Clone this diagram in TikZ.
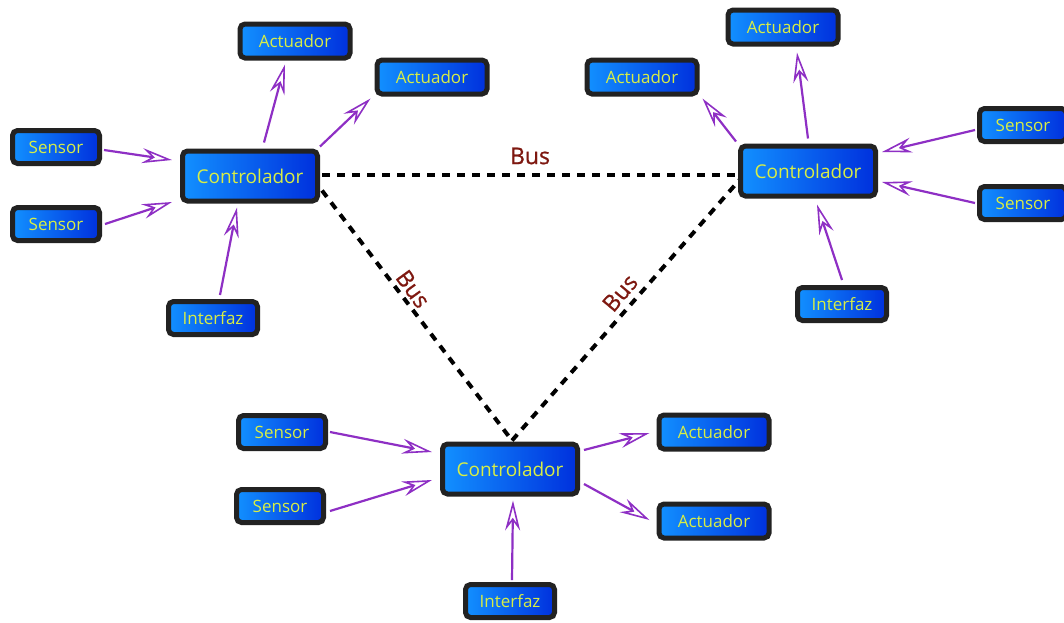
\documentclass[tikz,border=0pt]{standalone}
\usepackage{fontspec}
\setmainfont{Open Sans}
\newfontfamily\busfont[FakeBold=0.8]{Open Sans}
\usetikzlibrary{arrows.meta,calc,backgrounds}
\definecolor{boxedge}{HTML}{222222}
\definecolor{blueL}{HTML}{1290FF}
\definecolor{blueR}{HTML}{0030DD}
\definecolor{txtY}{HTML}{D8EE45}
\definecolor{arrP}{HTML}{8E2FC4}
\definecolor{busR}{HTML}{7E1810}
\begin{document}
\begin{tikzpicture}[x=1pt,y=-1pt,
  box/.style={draw=boxedge, line width=5pt, rounded corners=5pt, left color=blueL, right color=blueR,
    text=txtY, font=\fontsize{17}{19}\selectfont, inner sep=0pt},
  ctrl/.style={box, minimum width=135pt, minimum height=50pt, font=\fontsize{19}{22}\selectfont},
  small/.style={box, minimum width=87pt, minimum height=33pt},
  smallw/.style={box, minimum width=110pt, minimum height=34pt},
  link/.style={draw=arrP, line width=2.2pt, -{Stealth[open, length=30pt, width=15pt, inset=10pt, line width=1.6pt, fill=white]}},
  bus/.style={draw=black, line width=4pt, dash pattern=on 8pt off 7pt},
  buslbl/.style={text=busR, draw=none, font=\busfont\fontsize{23}{25}\selectfont, inner sep=0pt}
]
\useasboundingbox (0,0) rectangle (1064,622);

% controllers
\node[ctrl] (c1) at (250,176) {Controlador};
\node[ctrl] (c2) at (808,171) {Controlador};
\node[ctrl] (c3) at (510,469) {Controlador};

% top-left group
\node[small] (s1) at (56,147) {Sensor};
\node[small] (s2) at (56,224) {Sensor};
\node[small, minimum width=89pt] (i1) at (213,318) {Interfaz};
\node[smallw] (a1) at (295,41) {Actuador};
\node[smallw] (a2) at (432,77) {Actuador};

% top-right group
\node[smallw] (a3) at (783,27) {Actuador};
\node[smallw] (a4) at (642,77) {Actuador};
\node[small] (s3) at (1023,125) {Sensor};
\node[small] (s4) at (1023,203) {Sensor};
\node[small, minimum width=89pt] (i2) at (842,304) {Interfaz};

% bottom group
\node[small] (s5) at (282,432) {Sensor};
\node[small] (s6) at (280,506) {Sensor};
\node[smallw] (a5) at (714,432) {Actuador};
\node[smallw] (a6) at (714,521) {Actuador};
\node[small, minimum width=89pt] (i3) at (510,601) {Interfaz};

% bus
\path (c1.east) ++(2,-1) coordinate (b1);
\path (c2.west) ++(0,4) coordinate (b2);
\path (c1.south east) ++(2,-13) coordinate (b3);
\path (c3.north) ++(2,-1) coordinate (b4);
\path (c2.west) ++(4,6) coordinate (b5);
\begin{scope}[on background layer]
\draw[bus] (b1) -- (b2);
\draw[bus] (b3) -- (b4);
\draw[bus] (b4) -- (b5);
\end{scope}
\node[buslbl] (l1) at (530,156) {Bus};
\node[buslbl, rotate=-54] (l2) at (413,289) {Bus};
\node[buslbl, rotate=50] (l3) at (620,293) {Bus};

% arrows top-left
\draw[link] ($(s1.east)+(2,3)$) -- ($(c1.west)+(-8,-16)$);
\draw[link] ($(s2.east)+(3,0)$) -- ($(c1.west)+(-8,26)$);
\draw[link] ($(i1.north)+(7,-4)$) -- ($(c1.south)+(-13,4)$);
\draw[link] ($(c1.north)+(14,-6)$) -- ($(a1.south)+(-10,4)$);
\draw[link] ($(c1.north east)+(0,-2)$) -- ($(a2.south west)+(-4,2)$);

% arrows top-right
\draw[link] ($(s3.west)+(-2,5)$) -- ($(c2.east)+(4,-19)$);
\draw[link] ($(s4.west)+(-2,0)$) -- ($(c2.east)+(4,11)$);
\draw[link] ($(i2.north)+(0,-5)$) -- ($(c2.south)+(9,6)$);
\draw[link] ($(c2.north)+(0,-5)$) -- ($(a3.south)+(14,6)$);
\draw[link] ($(c2.north west)+(-2,-2)$) -- ($(a4.south east)+(3,2)$);

% arrows bottom
\draw[link] ($(s5.east)+(2,0)$) -- ($(c3.west)+(-8,-17)$);
\draw[link] ($(s6.east)+(4,5)$) -- ($(c3.west)+(-8,11)$);
\draw[link] ($(i3.north)+(2,-2)$) -- ($(c3.south)+(3,4)$);
\draw[link] ($(c3.east)+(4,-19)$) -- ($(a5.west)+(-7,1)$);
\draw[link] ($(c3.east)+(4,15)$) -- ($(a6.west)+(-7,-1)$);
\end{tikzpicture}
\end{document}
